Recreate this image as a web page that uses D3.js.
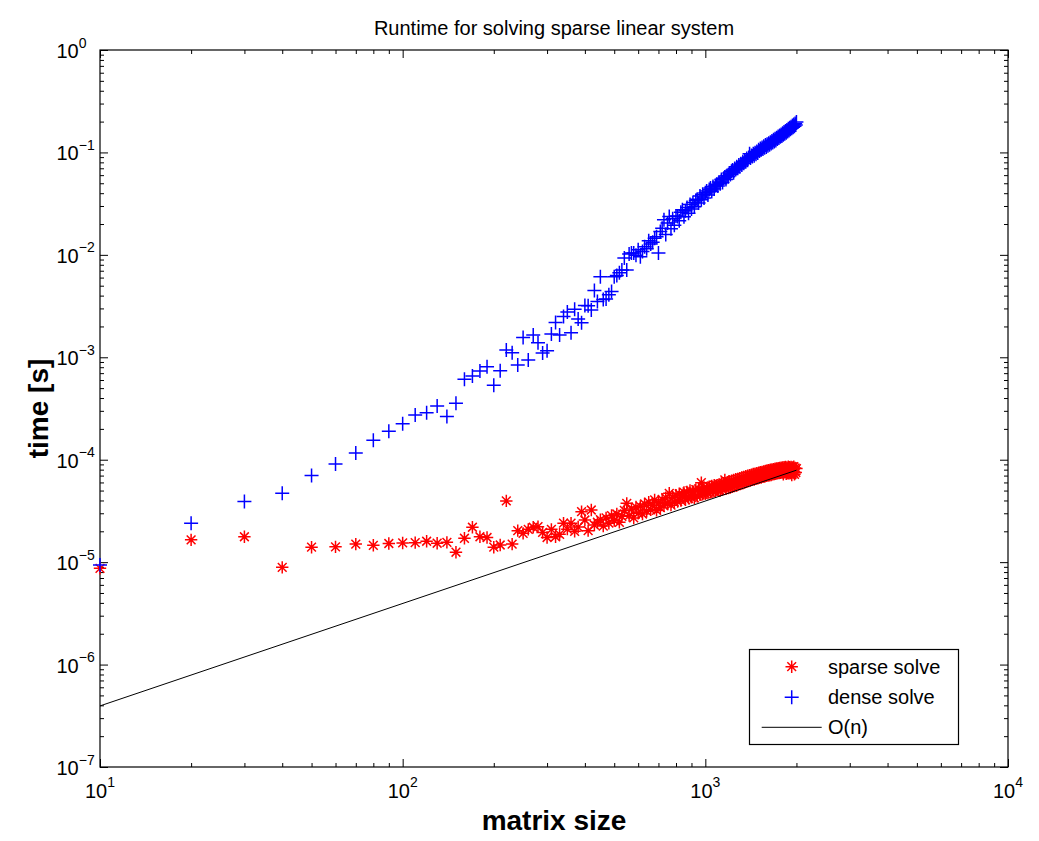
<!DOCTYPE html>
<html><head><meta charset="utf-8">
<script src="https://cdn.jsdelivr.net/npm/d3@7"></script>
<style>body{margin:0;background:#fff}svg{display:block}</style>
</head><body>
<svg id="c" width="1039" height="841"></svg>
<script>
// matrix sizes (x categories)
const sizes = [10,20,30,40,50,60,70,80,90,100,110,120,130,140,150,160,170,180,190,200,
210,220,230,240,250,260,270,280,290,300,310,320,330,340,350,360,370,380,390,400,
410,420,430,440,450,460,470,480,490,500,510,520,530,540,550,560,570,580,590,600,
610,620,630,640,650,660,670,680,690,700,710,720,730,740,750,760,770,780,790,800,
810,820,830,840,850,860,870,880,890,900,910,920,930,940,950,960,970,980,990,1000,
1010,1020,1030,1040,1050,1060,1070,1080,1090,1100,1110,1120,1130,1140,1150,1160,1170,1180,1190,1200,
1210,1220,1230,1240,1250,1260,1270,1280,1290,1300,1310,1320,1330,1340,1350,1360,1370,1380,1390,1400,
1410,1420,1430,1440,1450,1460,1470,1480,1490,1500,1510,1520,1530,1540,1550,1560,1570,1580,1590,1600,
1610,1620,1630,1640,1650,1660,1670,1680,1690,1700,1710,1720,1730,1740,1750,1760,1770,1780,1790,1800,
1810,1820,1830,1840,1850,1860,1870,1880,1890,1900,1910,1920,1930,1940,1950,1960,1970,1980,1990,2000];

// sparse solve runtime, in units of 1e-5 s
const sparseTimeE5 = [0.87,1.65,1.77,0.89,1.40,1.41,1.50,1.46,1.52,1.54,
1.55,1.60,1.53,1.56,1.25,1.71,2.19,1.77,1.74,1.40,
1.47,3.96,1.50,2.03,1.91,2.09,2.19,2.22,1.95,1.74,
2.09,1.77,1.87,2.40,2.10,2.40,2.00,2.20,3.11,2.58,
2.03,3.23,2.30,2.45,2.60,2.25,2.70,2.40,2.85,2.55,
2.95,2.45,2.80,3.20,3.75,2.85,3.30,2.70,3.45,3.00,
3.50,2.95,3.70,3.15,3.85,3.25,3.60,4.05,3.20,3.80,
3.40,4.10,3.55,4.25,3.75,4.70,3.60,4.30,3.85,4.50,
3.90,4.65,4.00,4.45,4.80,4.05,4.85,4.20,5.00,4.30,
4.90,4.25,5.10,4.40,5.20,4.55,5.97,4.60,5.35,4.65,
5.30,4.70,5.45,4.80,5.55,4.90,5.65,4.85,5.60,5.05,
5.75,5.00,5.85,5.10,5.90,6.35,5.20,6.00,5.30,6.10,
5.35,6.20,5.45,6.35,5.55,6.45,5.60,6.50,5.75,6.60,
5.85,6.70,5.90,6.80,6.00,6.90,6.10,7.00,6.20,7.05,
6.25,7.15,6.35,7.25,6.40,7.30,6.50,7.40,6.60,7.45,
6.65,7.55,6.70,7.60,6.80,7.70,6.85,7.75,6.95,7.85,
7.00,7.90,7.05,8.00,7.10,8.05,7.20,8.10,7.25,8.15,
7.30,8.20,7.35,8.25,7.40,8.30,7.45,8.35,7.50,8.40,
7.20,8.45,7.55,8.50,7.30,8.40,7.60,8.55,7.35,8.45,
7.40,8.50,7.10,8.40,7.45,8.55,7.20,8.30,7.50,8.20];

// dense solve runtime, seconds
const denseTime = [9.4e-6,2.4e-5,3.9e-5,4.7e-5,7.0e-5,9.1e-5,1.16e-4,1.55e-4,1.9e-4,2.24e-4,
2.74e-4,2.88e-4,3.35e-4,2.64e-4,3.56e-4,6.1e-4,6.58e-4,7.36e-4,8.1e-4,5.33e-4,
7.4e-4,1.18e-3,1.11e-3,8.4e-4,1.56e-3,9.4e-4,1.65e-3,1.39e-3,1.10e-3,1.16e-3,
1.69e-3,2.18e-3,1.65e-3,2.5e-3,2.76e-3,1.74e-3,2.95e-3,2.36e-3,2.17e-3,3.2e-3,
3.18e-3,2.9e-3,4.48e-3,3.5e-3,6.1e-3,3.66e-3,3.7e-3,4.07e-3,4.38e-3,6.1e-3,
6.3e-3,6.7e-3,7.1e-3,9.3e-3,7.1e-3,1.02e-2,1.04e-2,1.04e-2,9.9e-3,1.12e-2,
9.6e-3,1.08e-2,1.2e-2,1.15e-2,1.37e-2,1.28e-2,1.33e-2,1.45e-2,1.5e-2,1.04e-2,
1.69e-2,1.82e-2,2.2e-2,1.58e-2,2.05e-2,2.37e-2,1.8e-2,2.25e-2,1.95e-2,2.4e-2,
2.37e-2,2.15e-2,2.6e-2,2.75e-2,2.35e-2,2.7e-2,2.9e-2,2.55e-2,3.1e-2,2.8e-2,
3.25e-2,2.95e-2,3.4e-2,3.5e-2,3.2e-2,3.75e-2,3.45e-2,3.9e-2,3.6e-2,4.05e-2,
4.2e-2,3.85e-2,4.35e-2,4.5e-2,4.15e-2,4.65e-2,4.4e-2,4.75e-2,4.9e-2,4.7e-2,
5.15e-2,4.95e-2,5.45e-2,5.1e-2,5.6e-2,5.75e-2,5.45e-2,5.95e-2,5.8e-2,6.3e-2,
6.1e-2,6.55e-2,6.75e-2,6.35e-2,6.95e-2,6.8e-2,7.25e-2,7.0e-2,7.55e-2,7.3e-2,
7.75e-2,7.55e-2,8.1e-2,7.85e-2,8.3e-2,8.1e-2,8.7e-2,8.4e-2,8.9e-2,9.7e-2,
8.8e-2,9.35e-2,9.1e-2,9.7e-2,9.3e-2,9.95e-2,9.6e-2,1.02e-1,9.9e-2,1.06e-1,
1.03e-1,1.09e-1,1.06e-1,1.12e-1,1.08e-1,1.15e-1,1.11e-1,1.18e-1,1.13e-1,1.2e-1,
1.16e-1,1.23e-1,1.19e-1,1.26e-1,1.22e-1,1.29e-1,1.25e-1,1.33e-1,1.28e-1,1.36e-1,
1.31e-1,1.39e-1,1.35e-1,1.43e-1,1.38e-1,1.46e-1,1.42e-1,1.5e-1,1.45e-1,1.54e-1,
1.49e-1,1.58e-1,1.52e-1,1.62e-1,1.56e-1,1.66e-1,1.6e-1,1.7e-1,1.64e-1,1.74e-1,
1.68e-1,1.78e-1,1.72e-1,1.83e-1,1.76e-1,1.87e-1,1.8e-1,1.92e-1,1.85e-1,1.98e-1];

// O(n) reference line
const refN = [10, 2000];
const refTime = [3.95e-7, 7.9e-5];

const xTickExp = [1, 2, 3, 4];
const yTickExp = [-7, -6, -5, -4, -3, -2, -1, 0];
const legendLabels = ["sparse solve", "dense solve", "O(n)"];
const titleText = "Runtime for solving sparse linear system";
const xLabelText = "matrix size";
const yLabelText = "time [s]";

const FONT = "'Liberation Sans', Arial, Helvetica, sans-serif";
const L = 100, R = 1008, T = 50, B = 767;
const svg = d3.select("#c");
const x = d3.scaleLog().domain([10, 1e4]).range([L, R]);
const y = d3.scaleLog().domain([1e-7, 1]).range([B, T]);

svg.append("rect").attr("width", 1039).attr("height", 841).attr("fill", "#fff");

// ticks
const xAll = x.ticks(), yAll = y.ticks();
const isMajor = v => Math.abs(Math.log10(v) - Math.round(Math.log10(v))) < 1e-9;
const xMaj = xAll.filter(isMajor), xMin = xAll.filter(v => !isMajor(v));
const yMaj = yAll.filter(isMajor), yMin = yAll.filter(v => !isMajor(v));

function axisG(axis, tx, ty) {
  const g = svg.append("g").attr("transform", `translate(${tx},${ty})`).call(axis);
  g.select(".domain").remove();
  g.selectAll("line").attr("stroke", "#000").attr("stroke-width", 1);
  g.selectAll("text").remove();
  return g;
}
axisG(d3.axisBottom(x).tickValues(xMaj).tickSize(-8).tickFormat(""), 0, B);
axisG(d3.axisBottom(x).tickValues(xMin).tickSize(-4).tickFormat(""), 0, B);
axisG(d3.axisTop(x).tickValues(xMaj).tickSize(-8).tickFormat(""), 0, T);
axisG(d3.axisTop(x).tickValues(xMin).tickSize(-4).tickFormat(""), 0, T);
axisG(d3.axisLeft(y).tickValues(yMaj).tickSize(-8).tickFormat(""), L, 0);
axisG(d3.axisLeft(y).tickValues(yMin).tickSize(-4).tickFormat(""), L, 0);
axisG(d3.axisRight(y).tickValues(yMaj).tickSize(-8).tickFormat(""), R, 0);
axisG(d3.axisRight(y).tickValues(yMin).tickSize(-4).tickFormat(""), R, 0);

// frame
svg.append("rect").attr("x", L).attr("y", T).attr("width", R - L).attr("height", B - T)
  .attr("fill", "none").attr("stroke", "#000").attr("stroke-width", 1.2);

const expStr = e => (e < 0 ? "\u2212" + (-e) : String(e));

// x tick labels
xTickExp.forEach(e => {
  const t = svg.append("text").attr("x", x(Math.pow(10, e))).attr("y", B + 31)
    .attr("text-anchor", "middle").attr("font-family", FONT).attr("font-size", 20).attr("fill", "#000");
  t.append("tspan").text("10");
  t.append("tspan").attr("dy", -11).attr("font-size", 14).text(expStr(e));
});
// y tick labels
yTickExp.forEach(e => {
  const t = svg.append("text").attr("x", 56.5).attr("y", y(Math.pow(10, e)) + 8)
    .attr("text-anchor", "start").attr("font-family", FONT).attr("font-size", 20).attr("fill", "#000");
  t.append("tspan").text("10");
  t.append("tspan").attr("dy", -10.5).attr("font-size", 14).text(expStr(e));
});

// title & labels
svg.append("text").attr("x", (L + R) / 2).attr("y", 35).attr("text-anchor", "middle")
  .attr("font-family", FONT).attr("font-size", 20).text(titleText);
svg.append("text").attr("x", (L + R) / 2).attr("y", 830).attr("text-anchor", "middle")
  .attr("font-family", FONT).attr("font-size", 28).attr("font-weight", "bold").text(xLabelText);
svg.append("text").attr("transform", `translate(48,${(T + B) / 2}) rotate(-90)`).attr("text-anchor", "middle")
  .attr("font-family", FONT).attr("font-size", 28).attr("font-weight", "bold").text(yLabelText);

// markers
const starPath = (s) => {
  const d = s * 0.707;
  return `M${-s},0L${s},0M0,${-s}L0,${s}M${-d},${-d}L${d},${d}M${-d},${d}L${d},${-d}`;
};
const plusPath = (s) => `M${-s},0L${s},0M0,${-s}L0,${s}`;
const STAR = 6.2, PLUS = 7;

const plot = svg.append("g");
plot.append("g").selectAll("path").data(sizes.map((n, i) => [n, sparseTimeE5[i] * 1e-5]))
  .join("path").attr("transform", d => `translate(${x(d[0])},${y(d[1])})`)
  .attr("d", starPath(STAR)).attr("stroke", "#ff0000").attr("stroke-width", 1.5).attr("fill", "none");
plot.append("g").selectAll("path").data(sizes.map((n, i) => [n, denseTime[i]]))
  .join("path").attr("transform", d => `translate(${x(d[0])},${y(d[1])})`)
  .attr("d", plusPath(PLUS)).attr("stroke", "#0000ff").attr("stroke-width", 1.5).attr("fill", "none");
plot.append("path").datum(refN.map((n, i) => [n, refTime[i]]))
  .attr("d", d3.line().x(d => x(d[0])).y(d => y(d[1])))
  .attr("stroke", "#000").attr("stroke-width", 1).attr("fill", "none");

// legend
const lg = svg.append("g");
lg.append("rect").attr("x", 749.5).attr("y", 649.5).attr("width", 209).attr("height", 95)
  .attr("fill", "#fff").attr("stroke", "#000").attr("stroke-width", 1.2);
const rowY = [666.7, 697.3, 727.3];
lg.append("path").attr("transform", `translate(791.7,${rowY[0]})`).attr("d", starPath(STAR))
  .attr("stroke", "#ff0000").attr("stroke-width", 1.5).attr("fill", "none");
lg.append("path").attr("transform", `translate(791.7,${rowY[1]})`).attr("d", plusPath(PLUS))
  .attr("stroke", "#0000ff").attr("stroke-width", 1.5).attr("fill", "none");
lg.append("line").attr("x1", 761.7).attr("x2", 821.7).attr("y1", rowY[2]).attr("y2", rowY[2])
  .attr("stroke", "#000").attr("stroke-width", 1);
legendLabels.forEach((s, i) => {
  lg.append("text").attr("x", 828).attr("y", rowY[i] + 7).attr("font-family", FONT)
    .attr("font-size", 20).attr("fill", "#000").text(s);
});
</script>
</body></html>
